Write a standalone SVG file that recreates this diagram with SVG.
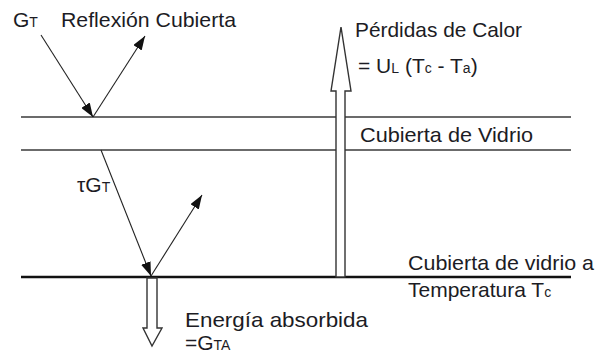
<svg xmlns="http://www.w3.org/2000/svg" width="597" height="356" viewBox="0 0 597 356">
<defs>
<style>
.t{font-family:"Liberation Sans",Arial,sans-serif;font-size:21px;fill:#1c1c24}
.s{font-size:14px}
.ln{stroke:#3a3a3a;stroke-width:1.3;fill:none}
.ray{stroke:#222;stroke-width:1.1;fill:none;marker-end:url(#ah)}
.hol{fill:#fff;stroke:#333;stroke-width:1.4;stroke-linejoin:miter}
</style>
<marker id="ah" viewBox="0 0 14 10" refX="14" refY="5" markerWidth="14" markerHeight="10" markerUnits="userSpaceOnUse" orient="auto">
<path d="M0,0 L14,5 L0,10 Z" fill="#111"/>
</marker>
</defs>
<rect width="597" height="356" fill="#fff"/>
<g id="layers">
<line class="ln" x1="21" y1="117" x2="571" y2="117"/>
<line class="ln" x1="21" y1="150" x2="571" y2="150"/>
<line x1="21" y1="277" x2="571" y2="277" stroke="#111" stroke-width="2.4"/>
</g>
<g id="connectors">
<line class="ray" x1="41" y1="35" x2="93" y2="117"/>
<line class="ray" x1="93" y1="117" x2="145" y2="36"/>
<line class="ray" x1="101" y1="150" x2="151" y2="276"/>
<line class="ray" x1="151" y1="276" x2="202" y2="195"/>
</g>
<g id="heat-loss-arrow">
<polygon class="hol" points="336,277 336,91 331,91 341,27 351,91 345,91 345,277"/>
</g>
<g id="absorbed-arrow">
<polygon class="hol" points="147,278 147,328 143,328 152,346 162,328 157,328 157,278"/>
</g>
<g id="labels">
<text class="t" x="13" y="27" font-size="19">G<tspan class="s">T</tspan></text>
<text class="t" x="61" y="27" textLength="175" lengthAdjust="spacingAndGlyphs">Reflexión Cubierta</text>
<text class="t" x="355" y="37" textLength="167" lengthAdjust="spacingAndGlyphs">Pérdidas de Calor</text>
<text class="t" x="358" y="73">= U<tspan class="s">L</tspan> (T<tspan class="s">c</tspan> - T<tspan class="s">a</tspan>)</text>
<text class="t" x="360" y="142" textLength="173" lengthAdjust="spacingAndGlyphs">Cubierta de Vidrio</text>
<text class="t" x="77" y="192">τG<tspan class="s">T</tspan></text>
<text class="t" x="408" y="270" textLength="186" lengthAdjust="spacingAndGlyphs">Cubierta de vidrio a</text>
<text class="t" x="408" y="297">Temperatura T<tspan class="s">c</tspan></text>
<text class="t" x="185" y="327" textLength="183" lengthAdjust="spacingAndGlyphs">Energía absorbida</text>
<text class="t" x="185" y="350" font-size="19">=G<tspan class="s">TA</tspan></text>
</g>
</svg>
